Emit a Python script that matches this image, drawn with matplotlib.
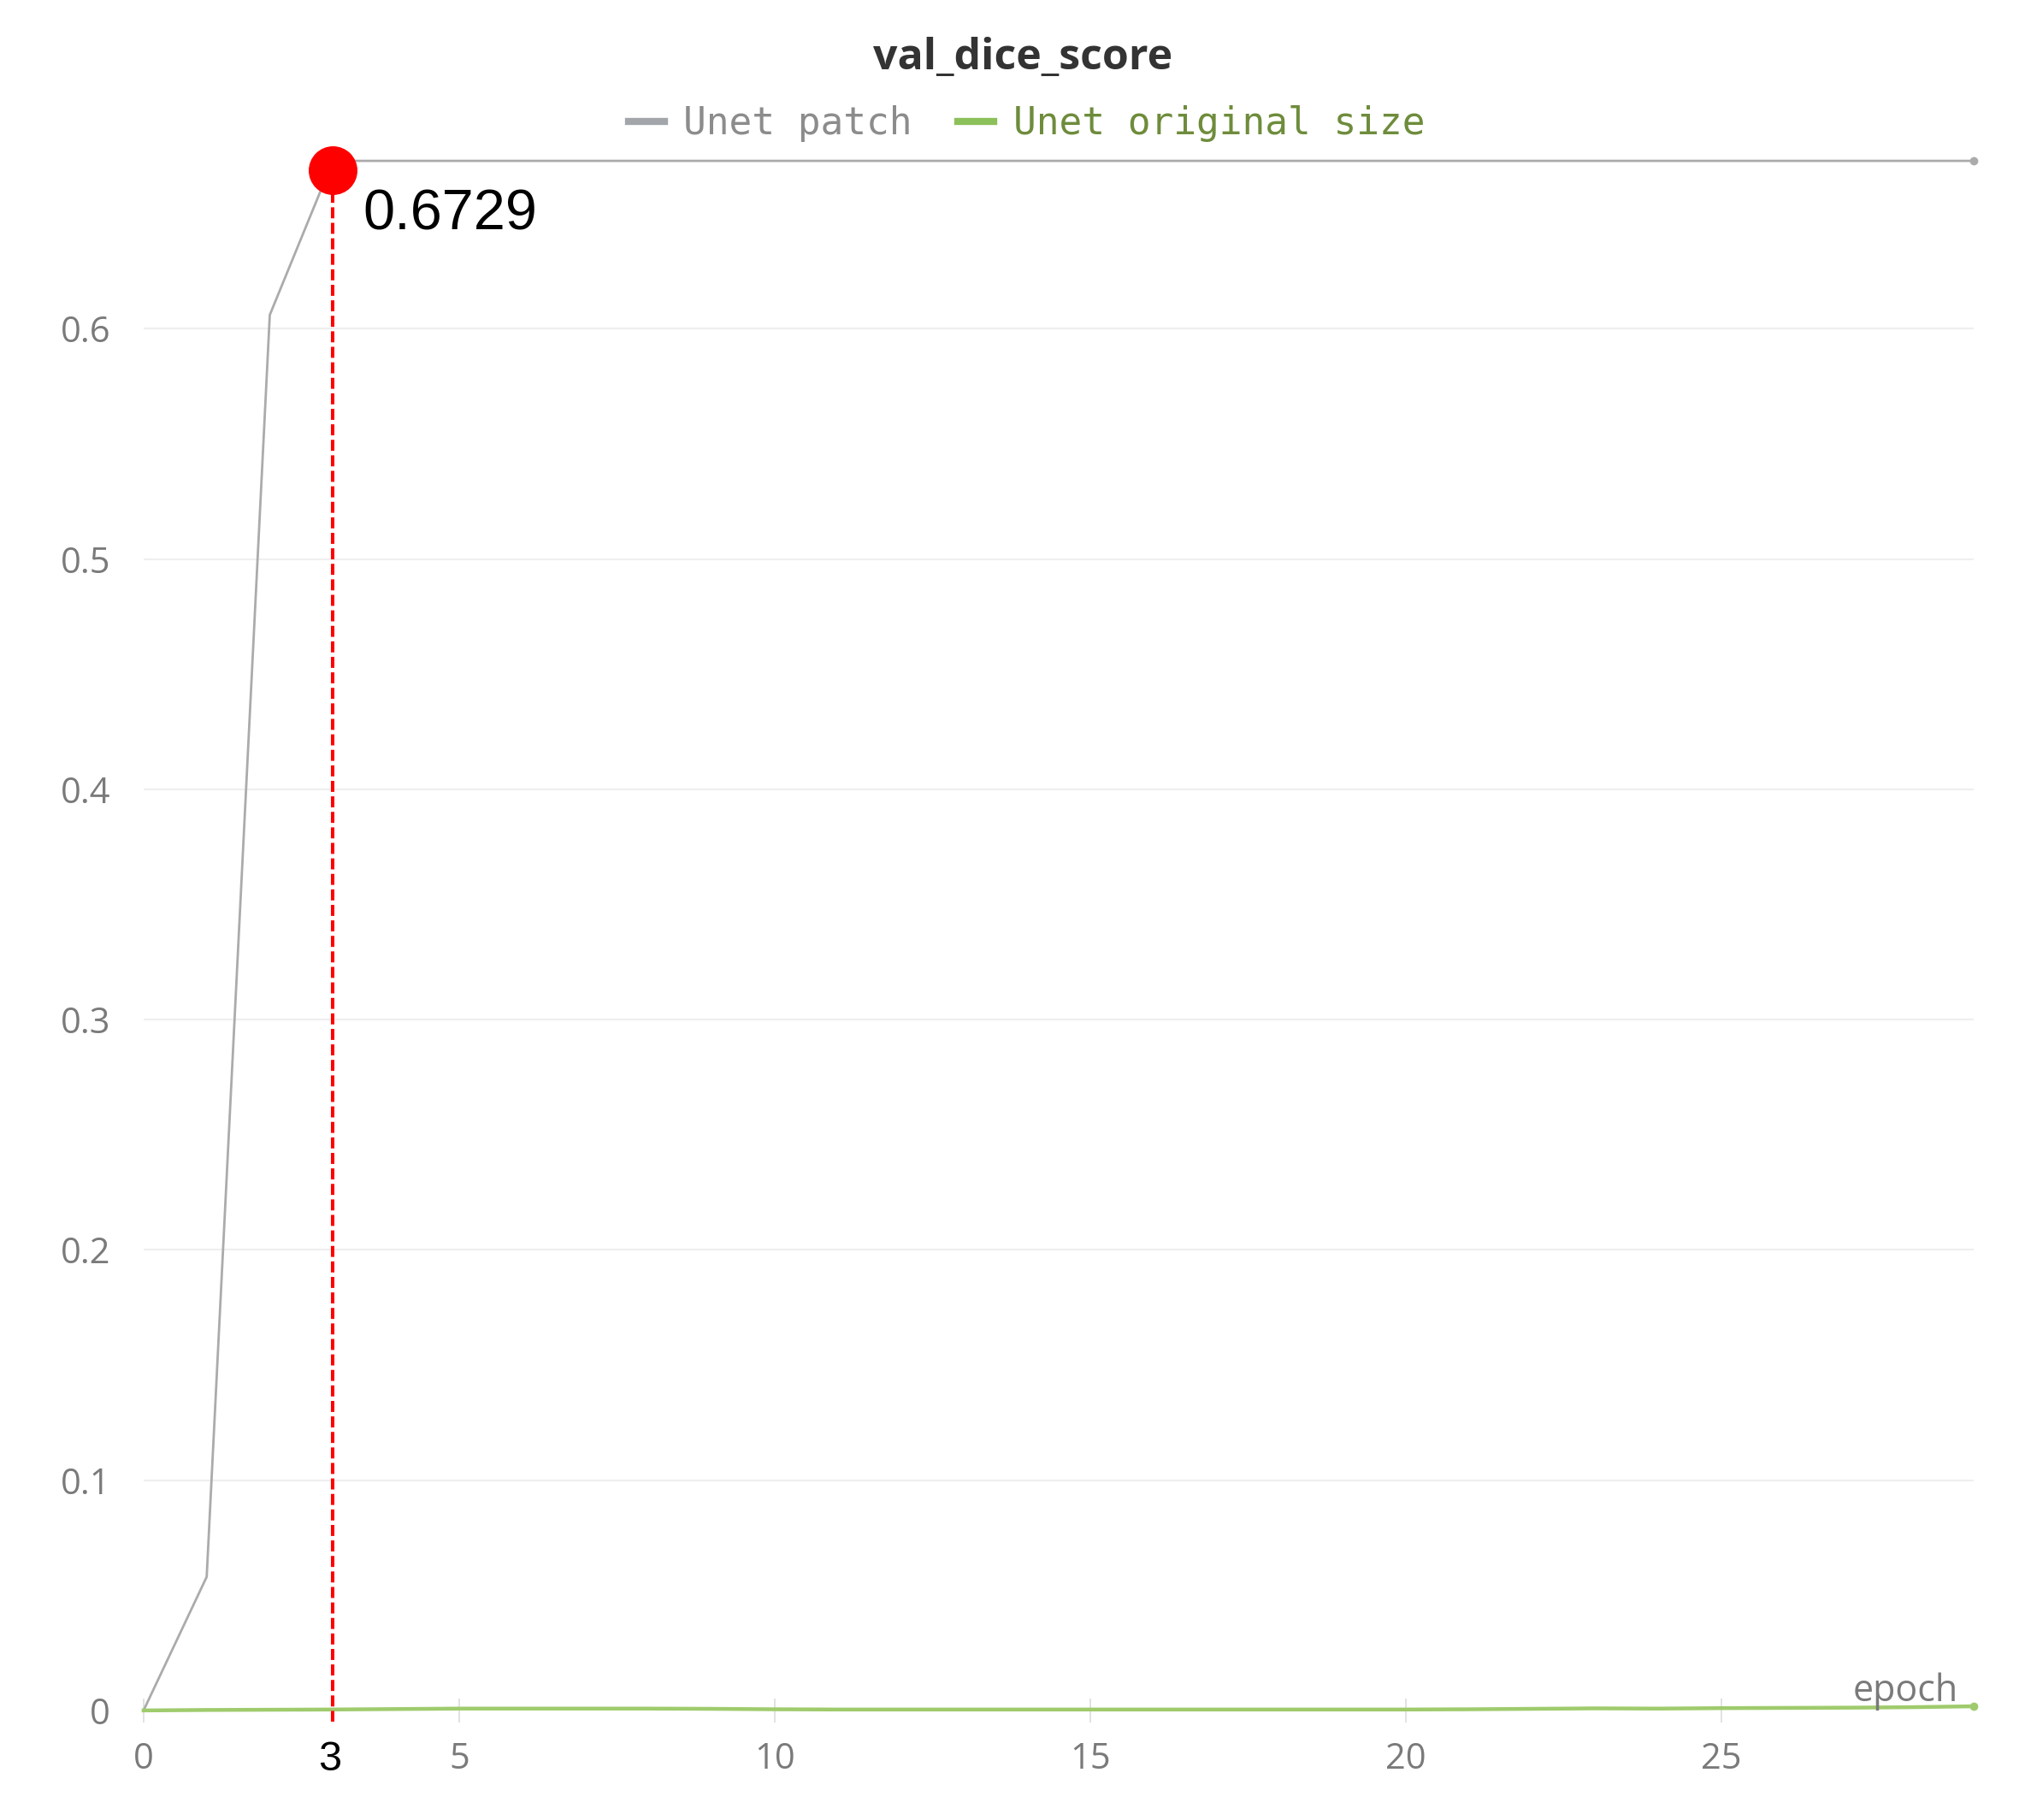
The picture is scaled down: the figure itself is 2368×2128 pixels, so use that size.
import matplotlib
matplotlib.use("Agg")
import matplotlib.pyplot as plt
from matplotlib.lines import Line2D

# data
epochs = list(range(30))
unet_patch = [0.0, 0.058, 0.606, 0.6729, 0.6729, 0.6729, 0.6729, 0.6729, 0.6729, 0.6729,
              0.6729, 0.6729, 0.6729, 0.6729, 0.6729, 0.6729, 0.6729, 0.6729, 0.6729, 0.6729,
              0.6729, 0.6729, 0.6729, 0.6729, 0.6729, 0.6729, 0.6729, 0.6729, 0.6729, 0.6729]
unet_original = [0.0, 0.0002, 0.0003, 0.0004, 0.0006, 0.0008, 0.0008, 0.0008, 0.0008, 0.0007,
                 0.0005, 0.0004, 0.0004, 0.0004, 0.0004, 0.0004, 0.0004, 0.0004, 0.0004, 0.0004,
                 0.0004, 0.0005, 0.0007, 0.0009, 0.0008, 0.0010, 0.0011, 0.0012, 0.0014, 0.0018]
series_labels = ["Unet patch", "Unet original size"]
x_ticks = [0, 5, 10, 15, 20, 25]
y_ticks = [0, 0.1, 0.2, 0.3, 0.4, 0.5, 0.6]
y_ticklabels = ["0", "0.1", "0.2", "0.3", "0.4", "0.5", "0.6"]
best_epoch = 3
best_value = 0.6729

gray = "#ababab"
green = "#9fcb6c"
tick_gray = "#7a7a7a"

plt.rcParams['font.family'] = ['Open Sans', 'DejaVu Sans']

fig = plt.figure(figsize=(11.84, 10.64), dpi=200)
ax = fig.add_axes([0.0709, 0.0602, 0.9038, 0.8604])

ax.plot(epochs, unet_patch, color=gray, lw=1.0, clip_on=False, zorder=3)
ax.plot(epochs[-1], unet_patch[-1], 'o', color=gray, ms=2.5, clip_on=False, zorder=3)
ax.plot(epochs, unet_original, color=green, lw=1.6, clip_on=False, zorder=3)
ax.plot(epochs[-1], unet_original[-1], 'o', color=green, ms=2.5, clip_on=False, zorder=3)

ax.set_xlim(0, 29)
ax.set_ylim(0, 0.68)

for s in ax.spines.values():
    s.set_visible(False)

ax.set_yticks(y_ticks)
ax.set_yticklabels(y_ticklabels)
ax.set_xticks(x_ticks)
ax.tick_params(axis='y', length=0, pad=14, labelsize=15, labelcolor=tick_gray)
ax.tick_params(axis='x', direction='inout', length=10, width=0.6, color='#dddddd',
               pad=8, labelsize=15, labelcolor=tick_gray)
for g in y_ticks[1:]:
    ax.axhline(g, color='#efefef', lw=0.8, zorder=0)

ax.text(28.75, 0.0, "epoch", ha='right', va='bottom', fontsize=15.5, color=tick_gray)

# highlight of the best epoch
ax.plot([best_epoch, best_epoch], [best_value, -0.005], color='red', lw=1.45,
        dashes=(3.2, 1.3), clip_on=False, zorder=4)
ax.plot(best_epoch, best_value - 0.004, 'o', color='red', ms=19.5, clip_on=False, zorder=5)
ax.text(best_epoch + 0.47, best_value - 0.0235, f"{best_value:.4f}", ha='left', va='center',
        fontsize=24, color='black', family=['Liberation Sans', 'DejaVu Sans'])
ax.text(best_epoch - 0.05, -0.0213, str(best_epoch), ha='center', va='center',
        fontsize=17.5, color='black', family=['Liberation Sans', 'DejaVu Sans'])

fig.text(0.505, 0.968, "val_dice_score", ha='center', va='center', fontsize=18,
         fontweight='bold', color='#333333')

handles = [Line2D([], [], color='#a2a6aa', lw=3),
           Line2D([], [], color='#8cc05a', lw=3)]
leg = fig.legend(handles, series_labels, loc='center', bbox_to_anchor=(0.507, 0.932),
                 ncol=2, frameon=False, handlelength=0.95, handletextpad=0.5,
                 columnspacing=1.2, prop={'family': 'DejaVu Sans Mono', 'size': 16})
for t, c in zip(leg.get_texts(), ['#8c8c8c', '#6e8c3c']):
    t.set_color(c)

fig.savefig("out.png", dpi=200, facecolor='white')
